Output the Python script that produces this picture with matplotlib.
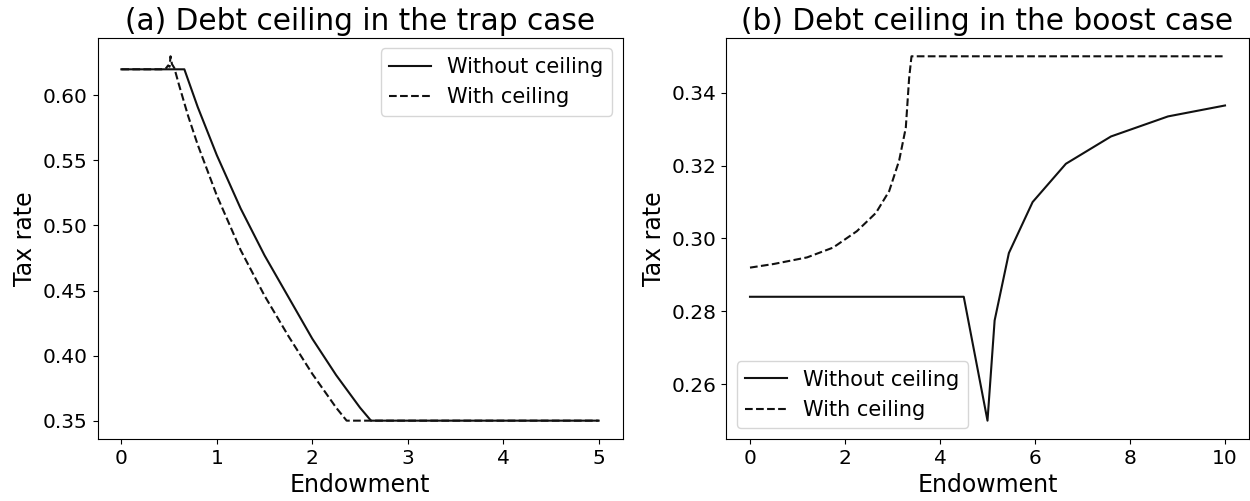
import numpy as np
import matplotlib
matplotlib.use('Agg')
import matplotlib.pyplot as plt

# (a) trap case
trap_x_free = [0, 0.66, 0.8, 1.0, 1.25, 1.5, 1.75, 2.0, 2.25, 2.5, 2.615, 5]
trap_y_free = [0.62, 0.62, 0.591, 0.554, 0.513, 0.477, 0.445, 0.413, 0.385, 0.360, 0.35, 0.35]
trap_x_ceil = [0, 0.42, 0.47, 0.49, 0.505, 0.515, 0.53, 0.555, 0.6, 0.7, 0.8, 1.0,
               1.25, 1.5, 1.75, 2.0, 2.25, 2.36, 5]
trap_y_ceil = [0.62, 0.62, 0.621, 0.623, 0.622, 0.630, 0.624, 0.621, 0.609, 0.584, 0.562, 0.523,
               0.481, 0.446, 0.415, 0.386, 0.360, 0.35, 0.35]

# (b) boost case
boost_x_free = [0, 4.5, 5.0, 5.15, 5.45, 5.95, 6.65, 7.6, 8.8, 10]
boost_y_free = [0.284, 0.284, 0.250, 0.2775, 0.296, 0.310, 0.3205, 0.328, 0.3335, 0.3365]
boost_x_ceil = [0, 0.5, 1.2, 1.75, 2.25, 2.65, 2.93, 3.14, 3.28, 3.35, 3.40, 10]
boost_y_ceil = [0.292, 0.293, 0.2948, 0.2975, 0.302, 0.307, 0.313, 0.3214, 0.3304, 0.344, 0.35, 0.35]

fig = plt.figure(figsize=(12.5, 5.01), dpi=100)
ax1 = fig.add_axes([0.078, 0.124, 0.42, 0.80])
ax2 = fig.add_axes([0.581, 0.124, 0.418, 0.80])

for ax, xf, yf, xc, yc, title, loc in [
        (ax1, trap_x_free, trap_y_free, trap_x_ceil, trap_y_ceil,
         '(a) Debt ceiling in the trap case', 'upper right'),
        (ax2, boost_x_free, boost_y_free, boost_x_ceil, boost_y_ceil,
         '(b) Debt ceiling in the boost case', 'lower left')]:
    ax.plot(xf, yf, color='#111111', lw=1.5, label='Without ceiling')
    ax.plot(xc, yc, color='#111111', lw=1.5, ls='--', label='With ceiling')
    ax.set_title(title, fontsize=21.3)
    ax.set_xlabel('Endowment', fontsize=17)
    ax.set_ylabel('Tax rate', fontsize=17)
    ax.tick_params(labelsize=14.5)
    ax.legend(loc=loc, fontsize=15)

ax1.set_yticks([0.35, 0.40, 0.45, 0.50, 0.55, 0.60])
ax2.set_yticks([0.26, 0.28, 0.30, 0.32, 0.34])

plt.savefig('out.png', dpi=100)
plt.close()
